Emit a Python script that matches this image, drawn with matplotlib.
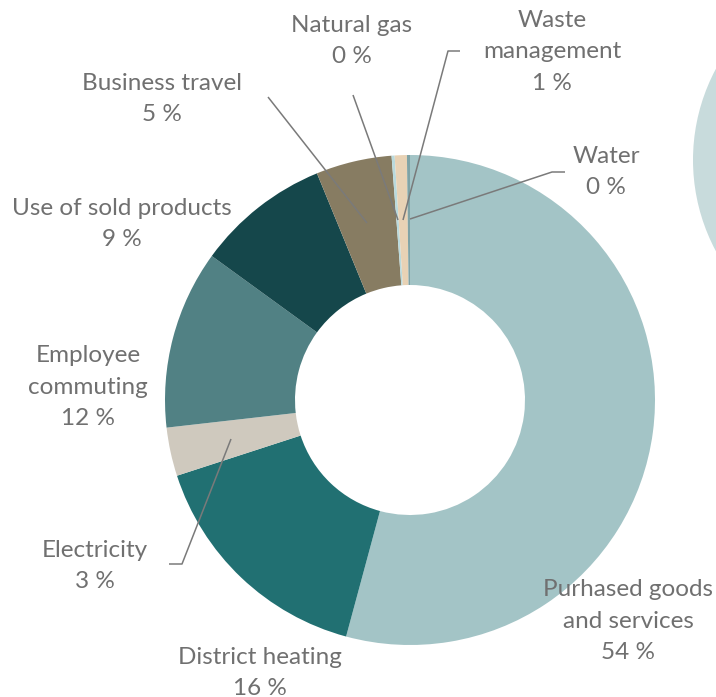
import matplotlib.pyplot as plt
from matplotlib.patches import Circle

plt.rcParams['font.family'] = ['Lato', 'DejaVu Sans']

categories = ["Purhased goods\nand services", "District heating", "Electricity",
              "Employee\ncommuting", "Use of sold products", "Business travel",
              "Natural gas", "Waste\nmanagement", "Water"]
values = [54.2, 15.8, 3.2, 11.8, 8.8, 5.0, 0.2, 0.8, 0.2]
pct_labels = ["54 %", "16 %", "3 %", "12 %", "9 %", "5 %", "0 %", "1 %", "0 %"]
colors = ["#a3c4c6", "#217072", "#cfc9be", "#518184", "#15474b",
          "#877c62", "#b9dadd", "#e8d2b5", "#7fa3a6"]

W, H = 716, 697
fig = plt.figure(figsize=(W / 100, H / 100), dpi=100)
ax = fig.add_axes([0, 0, 1, 1])

cx, cy = 410, H - 400
ax.pie(values, colors=colors, startangle=90, counterclock=False,
       center=(cx, cy), radius=245,
       wedgeprops=dict(width=130, linewidth=0))

# piece of the neighbouring chart peeking in at the right edge
ax.add_patch(Circle((886, H - 160), 193, color="#c8dbdc", lw=0))

# label block centres (pixels, y from top)
label_pos = [(628, 621), (260, 673), (95, 566), (88, 387), (122, 224),
             (162, 99), (352, 41), (552, 52), (606, 172)]
txt = "#707070"
for name, pct, (x, y) in zip(categories, pct_labels, label_pos):
    ax.text(x, H - y, name + "\n" + pct, ha="center", va="center",
            fontsize=17.5, color=txt, linespacing=1.62)

# leader lines (pixel coords from top)
leaders = [
    [(353, 95), (398, 220)],
    [(460, 51), (448, 51), (403, 220)],
    [(410, 219), (552, 172), (565, 172)],
    [(268, 97), (367, 223)],
    [(169, 564), (182, 564), (231, 439)],
]
for pts in leaders:
    xs = [p[0] for p in pts]
    ys = [H - p[1] for p in pts]
    ax.plot(xs, ys, color="#7a7a7a", lw=1.1, solid_capstyle="butt")

ax.set_xlim(0, W)
ax.set_ylim(0, H)
ax.axis("off")

fig.savefig("out.png", dpi=100)
